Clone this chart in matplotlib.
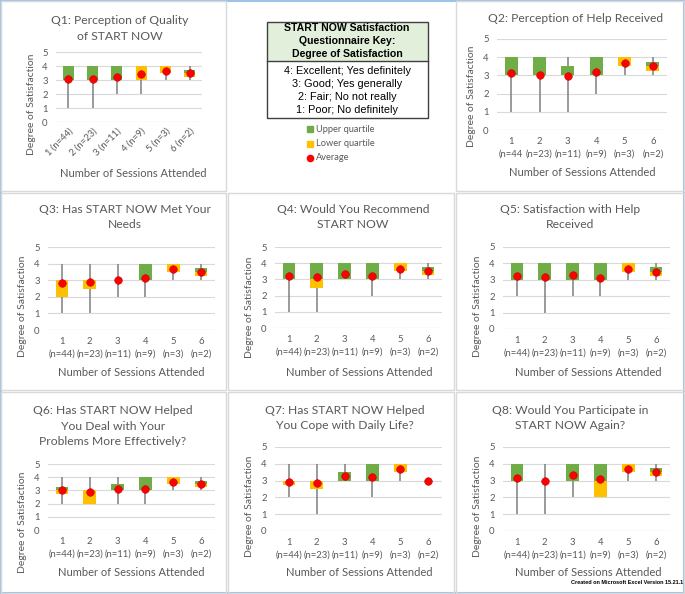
import matplotlib.pyplot as plt
from matplotlib.patches import Rectangle
import numpy as np

W, H = 685, 594

# data
titles = [
    "Q1: Perception of Quality\nof START NOW",
    "Q2: Perception of Help Received",
    "Q3: Has START NOW Met Your\nNeeds",
    "Q4: Would You Recommend\nSTART NOW",
    "Q5: Satisfaction with Help\nReceived",
    "Q6: Has START NOW Helped\nYou Deal with Your\nProblems More Effectively?",
    "Q7: Has START NOW Helped\nYou Cope with Daily Life?",
    "Q8: Would You Participate in\nSTART NOW Again?",
]
sessions = ["1", "2", "3", "4", "5", "6"]
n_labels = ["(n=44)", "(n=23)", "(n=11)", "(n=9)", "(n=3)", "(n=2)"]

whisker_low = [
    [1, 1, 2, 2, 3, 3],
    [1, 1, 1, 2, 3, 3],
    [1, 1, 2, 2, 3, 3],
    [1, 1, 3, 2, 3, 3],
    [2, 1, 2, 2, 3, 3],
    [2, 2, 2, 2, 3, 3],
    [2, 1, 3, 2, 3, 3],
    [1, 1, 2, 2, 3, 3],
]
whisker_high = [
    [4, 4, 4, 4, 4, 4],
    [4, 4, 4, 4, 4, 4],
    [4, 4, 4, 4, 4, 4],
    [4, 4, 4, 4, 4, 4],
    [4, 4, 4, 4, 4, 4],
    [4, 4, 4, 4, 4, 4],
    [4, 4, 4, 4, 4, 3],
    [4, 4, 4, 4, 4, 4],
]
first_quartile = [
    [3, 3, 3, 3, 3.5, 3.25],
    [3, 3, 3, 3, 3.5, 3.25],
    [2, 2.5, 3, 3, 3.5, 3.25],
    [3, 2.5, 3, 3, 3.5, 3.25],
    [3, 3, 3, 3, 3.5, 3.25],
    [2.75, 2, 3, 3, 3.5, 3.25],
    [2.75, 2.5, 3, 3, 3.5, 3],
    [3, 3, 3, 2, 3.5, 3.25],
]
median = [
    [3, 3, 3, 4, 4, 3.5],
    [3, 3, 3, 3, 4, 3.5],
    [3, 3, 3, 3, 4, 3.5],
    [3, 3, 3, 3, 4, 3.5],
    [3, 3, 3, 3, 4, 3.5],
    [3, 3, 3, 3, 4, 3.5],
    [3, 3, 3, 3, 4, 3],
    [3, 3, 3, 3, 4, 3.5],
]
third_quartile = [
    [4, 4, 4, 4, 4, 3.75],
    [4, 4, 3.5, 4, 4, 3.75],
    [3, 3, 3, 4, 4, 3.75],
    [4, 4, 4, 4, 4, 3.75],
    [4, 4, 4, 4, 4, 3.75],
    [3.25, 3, 3.5, 4, 4, 3.75],
    [3, 3, 3.5, 4, 4, 3],
    [4, 3, 4, 4, 4, 3.75],
]
average = [
    [3.05, 3.10, 3.25, 3.44, 3.67, 3.5],
    [3.14, 3.00, 2.97, 3.20, 3.67, 3.5],
    [2.84, 2.87, 3.00, 3.11, 3.67, 3.5],
    [3.23, 3.17, 3.36, 3.22, 3.67, 3.5],
    [3.23, 3.17, 3.27, 3.11, 3.67, 3.5],
    [3.00, 2.87, 3.09, 3.11, 3.67, 3.5],
    [2.91, 2.87, 3.27, 3.22, 3.67, 3.0],
    [3.16, 2.96, 3.36, 3.11, 3.67, 3.5],
]

GREEN = '#70AD47'
YELLOW = '#FFC000'
RED = '#FF0000'
GRID = '#D9D9D9'
TXT = '#595959'
FONT = ['Lato', 'DejaVu Sans']

# layout in pixels: plot area (left, top, right, bottom), title (x, y),
# xlabel (x, y), ylabel (x, y), panel frame (x0, y0, x1, y1)
layout = [
    dict(plot=(56, 52, 202, 122), title=(120, 28.5), xl=(133, 173), yl=(32, 104), frame=(1, 1, 226, 191)),
    dict(plot=(497, 39, 667, 130), title=(576, 18), xl=(582, 172), yl=(471, 96), frame=(456, 1, 684, 191)),
    dict(plot=(48, 247, 215, 330), title=(125, 217), xl=(131, 372), yl=(23, 306), frame=(1, 193, 226, 390)),
    dict(plot=(275, 247, 442, 328), title=(353, 217), xl=(359, 372), yl=(250, 307), frame=(228, 193, 454, 390)),
    dict(plot=(503, 247, 670, 329), title=(570, 217), xl=(588, 372), yl=(478, 306), frame=(456, 193, 684, 390)),
    dict(plot=(48, 464, 215, 530), title=(113, 426), xl=(131, 573), yl=(23, 522), frame=(1, 392, 226, 593)),
    dict(plot=(275, 447, 442, 531), title=(345, 418), xl=(359, 573), yl=(250, 506), frame=(228, 392, 454, 593)),
    dict(plot=(503, 447, 670, 531), title=(570, 418), xl=(588, 573), yl=(478, 506), frame=(456, 392, 684, 593)),
]

fig = plt.figure(figsize=(W / 100, H / 100), dpi=100)


def fx(x):
    return x / W


def fy(y):
    return 1 - y / H


# outer border and panel frames
fig.patches.append(Rectangle((0.001, 0.001), 0.998, 0.998, transform=fig.transFigure,
                             fill=False, ec='#9DC3E6', lw=1.5))
for lay in layout:
    x0, y0, x1, y1 = lay['frame']
    fig.patches.append(Rectangle((fx(x0), fy(y1)), fx(x1 - x0), (y1 - y0) / H,
                                 transform=fig.transFigure, fill=False, ec=GRID, lw=1))

x = np.arange(len(sessions))
for i, lay in enumerate(layout):
    l, t, r, b = lay['plot']
    ax = fig.add_axes([fx(l), fy(b), fx(r - l), (b - t) / H])
    lo = np.array(whisker_low[i])
    hi = np.array(whisker_high[i])
    q1 = np.array(first_quartile[i])
    md = np.array(median[i])
    q3 = np.array(third_quartile[i])

    ax.vlines(x, lo, hi, color='#7F7F7F', lw=1.1, zorder=2)
    ax.bar(x, md - q1, bottom=q1, width=0.45, color=YELLOW, zorder=3)
    ax.bar(x, q3 - md, bottom=md, width=0.45, color=GREEN, zorder=3)
    ax.scatter(x, average[i], s=30, color=RED, edgecolors='#C00000', linewidths=0.4, zorder=4)

    ax.set_xlim(-0.5, 5.5)
    ax.set_ylim(0, 5)
    ax.set_yticks(range(6))
    ax.yaxis.grid(True, color=GRID, lw=0.8, zorder=0)
    ax.set_axisbelow(True)
    for s in ax.spines.values():
        s.set_visible(False)
    ax.axhline(0, color=GRID, lw=0.8, zorder=1)
    ax.tick_params(length=0, labelsize=6.8, labelcolor=TXT, pad=6)
    for lab in ax.get_yticklabels():
        lab.set_family(FONT)
    ax.set_xticks(x)
    if i == 0:
        labs = [f"{s} {n}" for s, n in zip(sessions, n_labels)]
        ax.set_xticklabels(labs, rotation=45, ha='right', rotation_mode='anchor',
                           family=FONT)
        ax.tick_params(axis='x', pad=3)
    else:
        ns = list(n_labels)
        if i == 1:
            ns[0] = "(n=44"
        labs = [f"{s}\n{n}" for s, n in zip(sessions, ns)]
        ax.set_xticklabels(labs, linespacing=1.5, family=FONT)
        ax.tick_params(axis='x', pad=5)

    fig.text(fx(lay['title'][0]), fy(lay['title'][1]), titles[i], ha='center', va='center',
             fontsize=8.7, color=TXT, family=FONT, linespacing=1.45)
    fig.text(fx(lay['xl'][0]), fy(lay['xl'][1]), "Number of Sessions Attended", ha='center',
             va='center', fontsize=8, color=TXT, family=FONT)
    fig.text(fx(lay['yl'][0]), fy(lay['yl'][1]), "Degree of Satisfaction", ha='center',
             va='center', fontsize=7.5, color=TXT, family=FONT, rotation=90)

# key box in the middle
kx0, ky0, kx1, ky1, kmid = 267, 22, 428, 118, 61
fig.patches.append(Rectangle((fx(kx0), fy(kmid)), fx(kx1 - kx0), (kmid - ky0) / H,
                             transform=fig.transFigure, fc='#E2EFDA', ec='none'))
fig.patches.append(Rectangle((fx(kx0), fy(ky1)), fx(kx1 - kx0), (ky1 - ky0) / H,
                             transform=fig.transFigure, fill=False, ec='#404040', lw=1))
fig.add_artist(plt.Line2D([fx(kx0), fx(kx1)], [fy(kmid), fy(kmid)], transform=fig.transFigure,
                          color='#404040', lw=1))
fig.text(fx(347), fy(41), "START NOW Satisfaction\nQuestionnaire Key:\nDegree of Satisfaction",
         ha='center', va='center', fontsize=7.6, weight='bold', family='Liberation Sans',
         linespacing=1.35)
fig.text(fx(347), fy(90.5), "4: Excellent; Yes definitely\n3: Good; Yes generally\n"
         "2: Fair; No not really\n1: Poor; No definitely",
         ha='center', va='center', fontsize=7.8, family='Liberation Sans', linespacing=1.38)

legend_items = [("Upper quartile", GREEN, 's'), ("Lower quartile", YELLOW, 's'), ("Average", RED, 'o')]
for k, (lab, col, mk) in enumerate(legend_items):
    yy = 129 + k * 14.5
    fig.add_artist(plt.Line2D([fx(310)], [fy(yy)], transform=fig.transFigure, marker=mk,
                              color=col, markersize=4.5, ls='none'))
    fig.text(fx(316), fy(yy), lab, ha='left', va='center', fontsize=6.7, color=TXT, family=FONT)

fig.text(fx(683), fy(582), "Created on Microsoft Excel Version 15.21.1", ha='right', va='center',
         fontsize=4, weight='bold', family='Liberation Sans')

fig.savefig('out.png', dpi=100)
